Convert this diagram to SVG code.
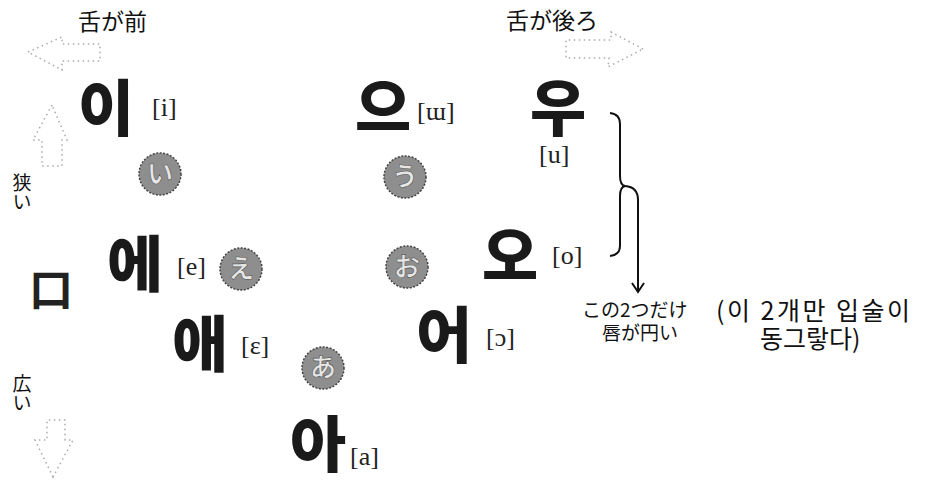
<svg xmlns="http://www.w3.org/2000/svg" width="930" height="481" viewBox="0 0 930 481">
<defs>
<style>
.big{font-family:"Noto Sans CJK KR",sans-serif;font-weight:900;font-size:61px;fill:#1a1a1a}
.ipa{font-family:"Liberation Serif","DejaVu Serif",serif;font-size:26px;fill:#222}
.jp{font-family:"Noto Sans CJK JP",sans-serif;font-size:23px;fill:#111}
.side{font-family:"Noto Sans CJK JP",sans-serif;font-size:19px;fill:#111;writing-mode:vertical-rl}
.note{font-family:"Noto Sans CJK JP",sans-serif;font-size:19px;fill:#111}
.kr{font-family:"Noto Sans CJK KR",sans-serif;font-size:25px;fill:#111}
.circ{fill:#8e8e8e;stroke:#444;stroke-width:1.5;stroke-dasharray:2 1.5}
.hira{font-family:"Noto Sans CJK JP",sans-serif;font-size:26px;font-weight:700;fill:#e6e6e6;stroke:#555;stroke-width:0.6;text-anchor:middle}
.faint{fill:none;stroke:#aaa;stroke-width:1.5;stroke-dasharray:1.5 3.5}
.line{fill:none;stroke:#111;stroke-width:2}
</style>
</defs>
<rect width="930" height="481" fill="#fff"/>

<g id="labels-top">
<text class="jp" x="78" y="30">舌が前</text>
<text class="jp" x="506" y="29">舌が後ろ</text>
</g>

<g id="direction-arrows">
<path class="faint" d="M28,52 L62,37 L62,44 L100,44 L100,61 L62,61 L62,70 Z"/>
<path class="faint" d="M643,49 L611,32 L611,40 L566,40 L566,58 L609,58 L608,67 Z"/>
<path class="faint" d="M52,105 L33,140 L42,140 L42,166 L62,166 L62,140 L67,140 Z"/>
<path class="faint" d="M53,477 L35,440 L47,440 L47,420 L65,420 L65,440 L73,440 Z"/>
</g>

<g id="side-labels">
<text class="side" x="22" y="173">狭い</text>
<text class="side" x="22" y="374">広い</text>
<text x="29" y="306" style="font-family:'Noto Sans CJK JP',sans-serif;font-size:44px;font-weight:700;fill:#222">口</text>
</g>

<g id="v-i"><text class="big" x="78" y="131">이</text><text class="ipa" x="152" y="116">[i]</text></g>
<g id="v-eu"><text class="big" x="355" y="131">으</text><text class="ipa" x="417" y="120">[ɯ]</text></g>
<g id="v-u"><text class="big" x="530" y="131">우</text><text class="ipa" x="539" y="163">[u]</text></g>
<g id="v-e"><text class="big" x="107" y="287">에</text><text class="ipa" x="177" y="275">[e]</text></g>
<g id="v-o"><text class="big" x="482" y="279">오</text><text class="ipa" x="552" y="264">[o]</text></g>
<g id="v-ae"><text class="big" x="172" y="367">애</text><text class="ipa" x="241" y="354">[ɛ]</text></g>
<g id="v-eo"><text class="big" x="416" y="358">어</text><text class="ipa" x="486" y="346">[ɔ]</text></g>
<g id="v-a"><text class="big" x="290" y="467">아</text><text class="ipa" x="350" y="465">[a]</text></g>

<g id="jp-i"><circle class="circ" cx="160" cy="174" r="21"/><text class="hira" x="160" y="183">い</text></g>
<g id="jp-u"><circle class="circ" cx="405" cy="177" r="21"/><text class="hira" x="405" y="186">う</text></g>
<g id="jp-e"><circle class="circ" cx="241" cy="269" r="21"/><text class="hira" x="241" y="278">え</text></g>
<g id="jp-o"><circle class="circ" cx="407" cy="267" r="21"/><text class="hira" x="407" y="276">お</text></g>
<g id="jp-a"><circle class="circ" cx="323" cy="368" r="21"/><text class="hira" x="323" y="377">あ</text></g>

<g id="connectors">
<path class="line" d="M610,113 Q620,114 620,124 L620,176 Q620,185 625,186 Q620,187 620,196 L620,246 Q620,255 610,256"/>
<path class="line" d="M625,186 Q638,187 638,200 L638,291"/>
<path class="line" d="M632,283 L638,292 L644,283"/>
</g>

<g id="note">
<text class="note"><tspan x="582" y="317">この2つだけ</tspan><tspan x="602" y="340">唇が円い</tspan></text>
<text class="kr"><tspan x="716" y="320" textLength="194" lengthAdjust="spacing">(이 2개만 입술이</tspan><tspan x="760" y="348">동그랗다)</tspan></text>
</g>
</svg>
